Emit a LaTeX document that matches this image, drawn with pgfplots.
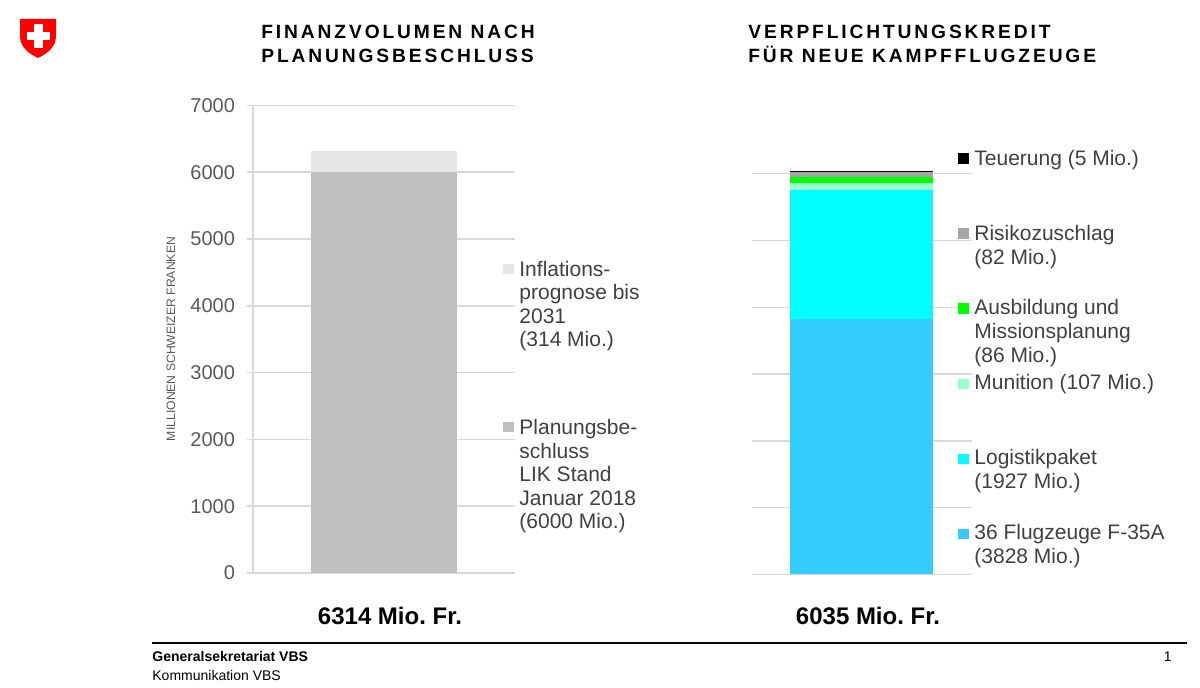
\documentclass[border=0pt]{standalone}
\usepackage{fontspec}
\setmainfont{Liberation Sans}
\newfontfamily\titlefont[LetterSpace=15]{Liberation Sans}
\usepackage{pgfplots}
\pgfplotsset{compat=1.18}
\definecolor{tickc}{HTML}{595959}
\definecolor{legc}{HTML}{404040}
\definecolor{gridc}{HTML}{D9D9D9}
\definecolor{planc}{HTML}{BFBFBF}
\definecolor{inflc}{HTML}{E6E6E6}
\definecolor{flugc}{HTML}{33CCFF}
\definecolor{logic}{HTML}{00FFFF}
\definecolor{munic}{HTML}{99FFCC}
\definecolor{ausbc}{HTML}{00FF00}
\definecolor{risic}{HTML}{A6A6A6}
\definecolor{teuec}{HTML}{000000}
\definecolor{swissred}{HTML}{FF0000}
\newcommand{\legfont}{\fontsize{10.5}{12}\selectfont}
\newcommand{\ttlfont}{\titlefont\bfseries\fontsize{9.6}{11}\selectfont}
\frenchspacing
\begin{document}
\begin{tikzpicture}[x=0.5pt,y=0.5pt]
\useasboundingbox (0,0) rectangle (1200,688);
% Swiss shield
\fill[swissred] (20,669) -- (56,669) -- (56,652) .. controls (56,640) and (46,634) .. (38,630) .. controls (30,634) and (20,640) .. (20,652) -- cycle;
\fill[white] (34,664) rectangle (42.5,640.3);
\fill[white] (27,656) rectangle (50,647.7);
% titles
\node[anchor=base west, inner sep=0pt, font=\ttlfont] at (261,688-38.3) {FINANZVOLUMEN NACH};
\node[anchor=base west, inner sep=0pt, font=\ttlfont] at (261,688-62.3) {PLANUNGSBESCHLUSS};
\node[anchor=base west, inner sep=0pt, font=\ttlfont] at (748,688-38.3) {VERPFLICHTUNGSKREDIT};
\node[anchor=base west, inner sep=0pt, font=\ttlfont] at (748,688-62.3) {FÜR NEUE KAMPFFLUGZEUGE};
% left axis
\begin{axis}[
  at={(126.5pt,57.5pt)}, anchor=south west,
  scale only axis, width=131pt, height=233.8pt,
  xmin=0, xmax=262, ymin=0, ymax=7000,
  ybar stacked, bar width=73pt,
  xtick=\empty,
  ytick={0,1000,...,7000}, ytick pos=left,
  ymajorgrids, grid style={draw=gridc, line width=0.75pt},
  axis line style={draw=none},
  tick align=outside, major tick length=3pt,
  ytick style={draw=gridc, line width=0.75pt},
  yticklabel style={font=\fontsize{10}{12}\selectfont, text=tickc, xshift=-2.5pt},
  /pgf/number format/assume math mode=true,
  /pgf/number format/1000 sep={},
  clip=false,
]
\draw[gridc, line width=0.75pt] (axis cs:0,0) -- (axis cs:0,7000);
\addplot[fill=planc, draw=none] coordinates {(131,6000)};
\addplot[fill=inflc, draw=none] coordinates {(131,314)};
\end{axis}
% right axis
\begin{axis}[
  at={(375.85pt,56.75pt)}, anchor=south west,
  scale only axis, width=110pt, height=233.8pt,
  xmin=0, xmax=220, ymin=0, ymax=7000,
  ybar stacked, bar width=71.5pt,
  xtick=\empty,
  ytick={0,1000,...,6000}, yticklabels={},
  ymajorgrids, grid style={draw=gridc, line width=0.75pt},
  axis line style={draw=none},
  major tick length=0pt,
  clip=false,
]
\addplot[fill=flugc, draw=none] coordinates {(110,3828)};
\addplot[fill=logic, draw=none] coordinates {(110,1927)};
\addplot[fill=munic, draw=none] coordinates {(110,107)};
\addplot[fill=ausbc, draw=none] coordinates {(110,86)};
\addplot[fill=risic, draw=none] coordinates {(110,82)};
\addplot[fill=teuec, draw=none] coordinates {(110,5)};
\end{axis}
% y label
\node[rotate=90, inner sep=0pt, text=tickc, font=\fontsize{6.1}{7}\selectfont] at (171,688-339) {MILLIONEN SCHWEIZER FRANKEN};
% left legend
\fill[inflc] (503,688-274) rectangle (514,688-264);
\fill[planc] (503,688-432) rectangle (514,688-422);
\begin{scope}[every node/.style={anchor=base west, inner sep=0pt, text=legc, font=\legfont}]
\node at (519,688-276.7) {Inflations-};
\node at (519,688-300) {prognose bis};
\node at (519,688-323.5) {2031};
\node at (519,688-347) {(314 Mio.)};
\node at (519,688-435) {Planungsbe-};
\node at (519,688-458.5) {schluss};
\node at (519,688-482) {LIK Stand};
\node at (519,688-505.5) {Januar 2018};
\node at (519,688-529) {(6000 Mio.)};
% right legend
\node at (974,688-166) {Teuerung (5 Mio.)};
\node at (974,688-240.7) {Risikozuschlag};
\node at (974,688-264.3) {(82 Mio.)};
\node at (974,688-315) {Ausbildung und};
\node at (974,688-338.7) {Missionsplanung};
\node at (974,688-362.5) {(86 Mio.)};
\node at (974,688-390) {Munition (107 Mio.)};
\node at (974,688-465) {Logistikpaket};
\node at (974,688-489) {(1927 Mio.)};
\node at (974,688-540) {36 Flugzeuge F-35A};
\node at (974,688-563.5) {(3828 Mio.)};
\end{scope}
\fill[teuec] (958,688-164) rectangle (969,688-153);
\fill[risic] (958,688-239) rectangle (969,688-228);
\fill[ausbc] (958,688-314) rectangle (969,688-303);
\fill[munic] (958,688-389) rectangle (969,688-379);
\fill[logic] (958,688-464) rectangle (969,688-454);
\fill[flugc] (958,688-539) rectangle (969,688-529);
% totals
\node[anchor=base, inner sep=0pt, font=\bfseries\fontsize{12}{14}\selectfont] at (390,688-625) {6314 Mio. Fr.};
\node[anchor=base, inner sep=0pt, font=\bfseries\fontsize{12}{14}\selectfont] at (868,688-625) {6035 Mio. Fr.};
% footer
\draw[line width=0.8pt] (152,688-643) -- (1187,688-643);
\node[anchor=base west, inner sep=0pt, font=\bfseries\fontsize{7}{8}\selectfont] at (152,688-662) {Generalsekretariat VBS};
\node[anchor=base west, inner sep=0pt, font=\fontsize{7}{8}\selectfont] at (152,688-681) {Kommunikation VBS};
\node[anchor=base east, inner sep=0pt, font=\fontsize{7}{8}\selectfont] at (1172,688-662) {1};
\end{tikzpicture}
\end{document}
